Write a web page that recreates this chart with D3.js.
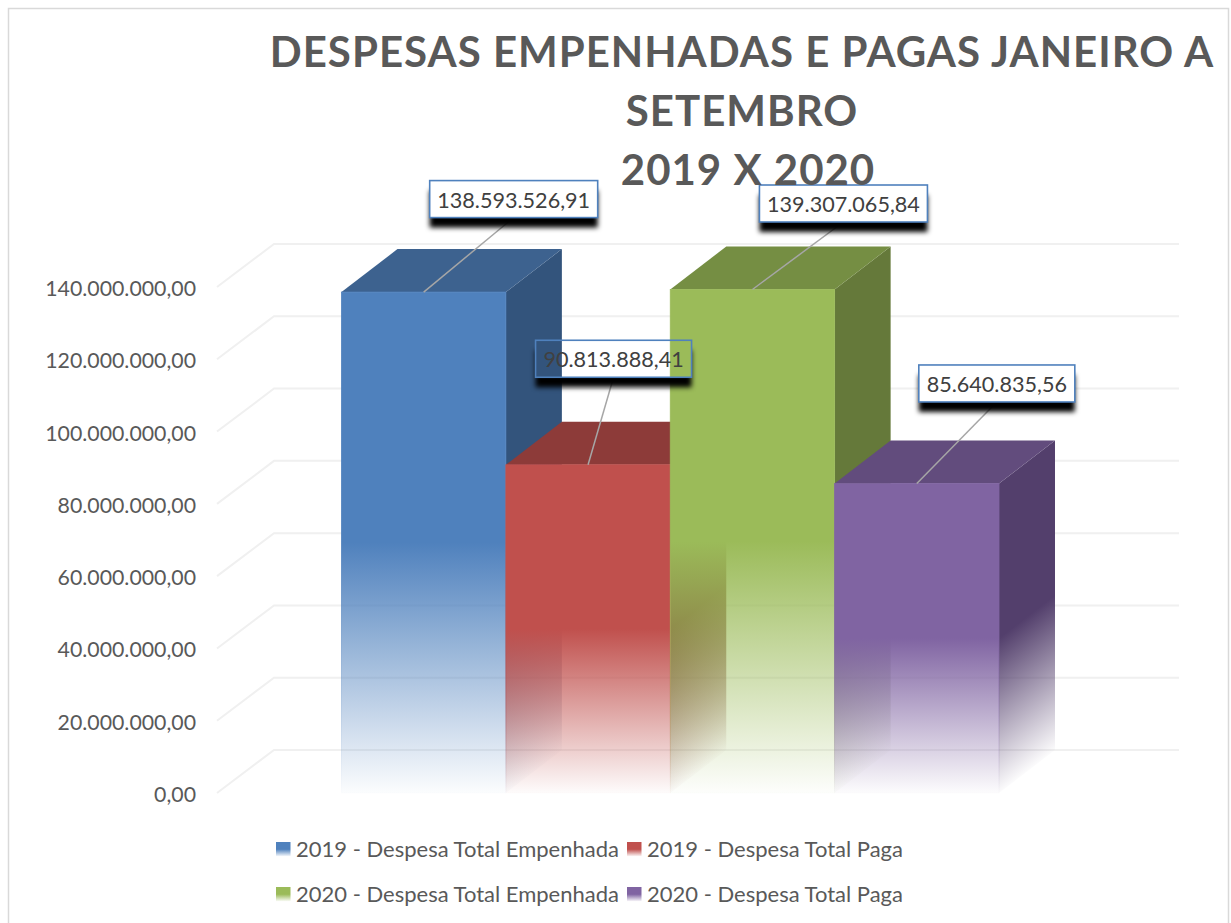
<!DOCTYPE html>
<html>
<head>
<meta charset="utf-8">
<style>
  html, body { margin: 0; padding: 0; background: #fff; overflow: hidden; }
  text { font-family: Lato, sans-serif; fill: #595959; }
</style>
<script src="https://cdn.jsdelivr.net/npm/d3@7"></script>
</head>
<body>
<svg id="chart" width="1231" height="923"></svg>
<script>
'use strict';

// chart data
var titleLines = ['DESPESAS EMPENHADAS E PAGAS JANEIRO A', 'SETEMBRO', '2019 X 2020'];
var seriesNames = ['2019 - Despesa Total Empenhada', '2019 - Despesa Total Paga',
                   '2020 - Despesa Total Empenhada', '2020 - Despesa Total Paga'];
var seriesValues = [138593526.91, 90813888.41, 139307065.84, 85640835.56];
var valueLabels = ['138.593.526,91', '90.813.888,41', '139.307.065,84', '85.640.835,56'];
var yTicks = [0, 20000000, 40000000, 60000000, 80000000, 100000000, 120000000, 140000000];

// colours of each series: front, top and side of the box
var frontColors = ['#4f81bd', '#c0504d', '#9bbb59', '#8064a2'];
var topColors = ['#3d628f', '#8d3b39', '#758e43', '#624c7d'];
var sideColors = ['#33547c', '#7a3331', '#65793a', '#533f6c'];

// layout
var depthX = 56, depthY = 43;
var y = d3.scaleLinear().domain([0, 140000000]).range([793, 287]);
var x = d3.scaleBand().domain(d3.range(seriesValues.length)).range([341.5, 999]);
var labelDx = [90, 25.5, 91, 80];   // callout centre relative to the bar top centre
var labelDy = [-93, -106, -86, -100];
var labelFill = ['#fff', 'none', '#fff', '#fff'];   // the second callout has no fill in the original
var boxW = [168, 156, 168, 156], boxH = 37;
var titleX = [742, 742, 748];

var svg = d3.select('#chart');
var defs = svg.append('defs');

// black blurred shadow under the callouts
defs.append('filter').attr('id', 'shadow')
  .attr('x', '-10%').attr('y', '-30%').attr('width', '120%').attr('height', '180%')
  .append('feGaussianBlur').attr('stdDeviation', 2.8);

// fade-out gradients, solid over the top half of the bar
function addFade(id, color, fadeStart) {
  var g = defs.append('linearGradient').attr('id', id)
    .attr('x1', 0).attr('y1', 0).attr('x2', 0).attr('y2', 1);
  g.append('stop').attr('offset', 0).attr('stop-color', color);
  g.append('stop').attr('offset', fadeStart).attr('stop-color', color);
  g.append('stop').attr('offset', 1).attr('stop-color', color).attr('stop-opacity', 0.02);
}
seriesValues.forEach(function(d, i) {
  addFade('front' + i, frontColors[i], 0.5);
  addFade('side' + i, sideColors[i], 0.5);
  addFade('swatch' + i, frontColors[i], 0.5);
});

// chart frame
svg.append('rect')
  .attr('x', 8.5).attr('y', 8.5).attr('width', 1220).attr('height', 940)
  .attr('fill', '#fff').attr('stroke', '#d9d9d9').attr('stroke-width', 1.5);

// gridlines on the back wall and side wall
var grid = svg.append('g');
grid.selectAll('path').data(yTicks).enter().append('path')
  .attr('d', function(d) {
    return d3.line()([
      [x.range()[0] - 124.5, y(d)],
      [x.range()[0] - 124.5 + depthX + 1, y(d) - depthY],
      [1179, y(d) - depthY]
    ]);
  })
  .attr('fill', 'none').attr('stroke', '#f0f0f0').attr('stroke-width', 2);

// y axis labels
svg.append('g').selectAll('text').data(yTicks).enter().append('text')
  .attr('x', 196).attr('y', function(d) { return y(d) + 9; })
  .attr('text-anchor', 'end').style('font-size', '21.3px')
  .text(function(d) {
    return d === 0 ? '0,00' : d3.format(',')(d).replace(/,/g, '.') + ',00';
  });

// bars, drawn left to right so that later ones sit in front
var bars = svg.append('g').selectAll('g').data(seriesValues).enter().append('g');

// side face: skewed so that the fade runs parallel to the floor edge
bars.append('rect')
  .attr('x', 0).attr('width', depthX)
  .attr('y', function(d) { return y(d); })
  .attr('height', function(d) { return y(0) - y(d); })
  .attr('transform', function(d, i) {
    return 'translate(' + (x(i) + x.bandwidth()) + ',0) translate(0,' + y(0) + ') skewY(' +
      (-Math.atan2(depthY, depthX) * 180 / Math.PI) + ') translate(0,' + (-y(0)) + ')';
  })
  .attr('fill', function(d, i) { return 'url(#side' + i + ')'; });

// top face
bars.append('path')
  .attr('d', function(d, i) {
    var x0 = x(i), x1 = x(i) + x.bandwidth(), top = y(d);
    return d3.line()([[x0, top], [x1, top], [x1 + depthX, top - depthY], [x0 + depthX, top - depthY]]) + 'Z';
  })
  .attr('fill', function(d, i) { return topColors[i]; });

// front face, the stroke gives the faint vertical edges at the bottom
bars.append('rect')
  .attr('x', function(d, i) { return x(i); })
  .attr('width', x.bandwidth())
  .attr('y', function(d) { return y(d); })
  .attr('height', function(d) { return y(0) - y(d); })
  .attr('fill', function(d, i) { return 'url(#front' + i + ')'; })
  .attr('stroke', function(d, i) { return 'url(#front' + i + ')'; })
  .attr('stroke-width', 0.8);

// callouts
function boxCx(d, i) { return x(i) + x.bandwidth() / 2 + labelDx[i]; }
function boxCy(d, i) { return y(d) + labelDy[i]; }

var callouts = svg.append('g').selectAll('g').data(seriesValues).enter().append('g');

// leader runs from the top of the bar to the middle of the callout's lower edge
callouts.append('line')
  .attr('x1', function(d, i) { return x(i) + x.bandwidth() / 2; })
  .attr('y1', function(d) { return y(d); })
  .attr('x2', boxCx)
  .attr('y2', function(d, i) { return boxCy(d, i) + boxH / 2; })
  .attr('stroke', '#a6a6a6').attr('stroke-width', 1.5);

// shadow is masked out inside the box, so a box without fill stays clear
var shadowMasks = defs.selectAll('mask').data(seriesValues).enter().append('mask')
  .attr('id', function(d, i) { return 'cut' + i; })
  .attr('maskUnits', 'userSpaceOnUse')
  .attr('x', 0).attr('y', 0).attr('width', 1231).attr('height', 923);
shadowMasks.append('rect')
  .attr('x', 0).attr('y', 0).attr('width', 1231).attr('height', 923).attr('fill', '#fff');
shadowMasks.append('rect')
  .attr('x', function(d, i) { return boxCx(d, i) - boxW[i] / 2; })
  .attr('y', function(d, i) { return boxCy(d, i) - boxH / 2; })
  .attr('width', function(d, i) { return boxW[i]; })
  .attr('height', boxH)
  .attr('fill', '#000');

callouts.append('g')
  .attr('mask', function(d, i) { return 'url(#cut' + i + ')'; })
  .append('rect')
  .attr('x', function(d, i) { return boxCx(d, i) - boxW[i] / 2; })
  .attr('y', function(d, i) { return boxCy(d, i) - boxH / 2 + 10; })
  .attr('width', function(d, i) { return boxW[i]; })
  .attr('height', boxH)
  .attr('fill', '#000').attr('filter', 'url(#shadow)');

callouts.append('rect')
  .attr('x', function(d, i) { return boxCx(d, i) - boxW[i] / 2; })
  .attr('y', function(d, i) { return boxCy(d, i) - boxH / 2; })
  .attr('width', function(d, i) { return boxW[i]; })
  .attr('height', boxH)
  .attr('fill', function(d, i) { return labelFill[i]; })
  .attr('stroke', '#4f81bd').attr('stroke-width', 1.6);

callouts.append('text')
  .attr('x', boxCx)
  .attr('y', function(d, i) { return boxCy(d, i) + 8.5; })
  .attr('text-anchor', 'middle').style('font-size', '21.6px').style('fill', '#404040')
  .text(function(d, i) { return valueLabels[i]; });

// title
svg.append('g').selectAll('text').data(titleLines).enter().append('text')
  .attr('x', function(d, i) { return titleX[i]; })
  .attr('y', function(d, i) { return 67 + i * 59; })
  .attr('text-anchor', 'middle')
  .style('font-size', '42px').style('font-weight', 700).style('letter-spacing', '1px')
  .text(function(d) { return d; });

// legend
var legendCol = d3.scaleOrdinal().domain([0, 1]).range([276, 627]);
var legendRow = d3.scaleOrdinal().domain([0, 1]).range([849, 894]);
var legend = svg.append('g').selectAll('g').data(seriesNames).enter().append('g')
  .attr('transform', function(d, i) {
    return 'translate(' + legendCol(i % 2) + ',' + legendRow(Math.floor(i / 2)) + ')';
  });
legend.append('rect')
  .attr('x', 0).attr('y', -7).attr('width', 14.5).attr('height', 14.5)
  .attr('fill', function(d, i) { return 'url(#swatch' + i + ')'; });
legend.append('text')
  .attr('x', 20).attr('y', 8)
  .style('font-size', '22px')
  .text(function(d) { return d; });
</script>
</body>
</html>
